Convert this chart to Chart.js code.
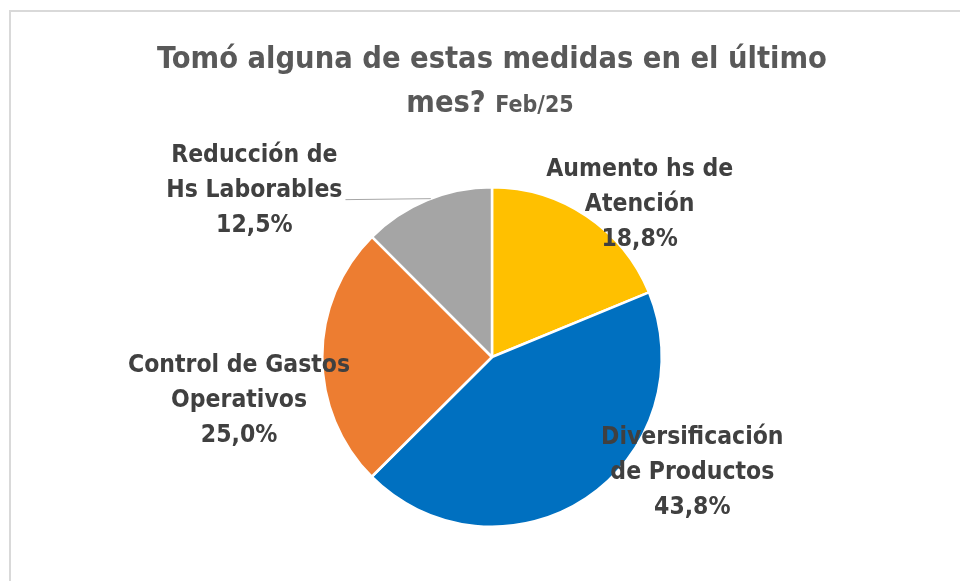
<!DOCTYPE html>
<html>
<head>
<meta charset="utf-8">
<script src="https://cdn.jsdelivr.net/npm/chart.js@4.4.1/dist/chart.umd.min.js"></script>
<style>
  html, body { margin: 0; padding: 0; background: #fff; }
  #wrap { width: 960px; height: 581px; position: relative; }
</style>
</head>
<body>
<div id="wrap"><canvas id="pie"></canvas></div>
<script>
// data
const categories = ['Aumento hs de Atención', 'Diversificación de Productos', 'Control de Gastos Operativos', 'Reducción de Hs Laborables'];
const labelLines = [['Aumento hs de', 'Atención'], ['Diversificación', 'de Productos'], ['Control de Gastos', 'Operativos'], ['Reducción de', 'Hs Laborables']];
const values = [18.8, 43.8, 25.0, 12.5];
const colors = ['#FFC000', '#0070C0', '#ED7D31', '#A5A5A5'];
const titleMain = 'Tomó alguna de estas medidas en el último';
const titleSecond = 'mes?';
const titleDate = 'Feb/25';

// label centre, in units of the pie radius from the pie centre
const labelOffsets = [[0.87, -0.90], [1.18, 0.68], [-1.49, 0.26], [-1.40, -0.98]];

const FONT = "'Liberation Sans Narrow', 'DejaVu Sans Condensed', 'Open Sans', sans-serif";

function pct(v) {
    return v.toFixed(1).replace('.', ',') + '%';
}

// title + frame
const titlePlugin = {
    id: 'titleDraw',
    beforeDraw(chart) {
        const ctx = chart.ctx;
        ctx.save();
        ctx.strokeStyle = '#d9d9d9';
        ctx.lineWidth = 2;
        ctx.strokeRect(10, 11, 1200, 1200);
        ctx.fillStyle = '#595959';
        ctx.textBaseline = 'alphabetic';
        ctx.textAlign = 'center';
        ctx.font = 'bold 30.5px ' + FONT;
        ctx.fillText(titleMain, 492, 68);
        ctx.textAlign = 'left';
        const w1 = ctx.measureText(titleSecond + ' ').width;
        ctx.font = 'bold 23px ' + FONT;
        const w2 = ctx.measureText(titleDate).width;
        const x0 = 490 - (w1 + w2) / 2;
        ctx.font = 'bold 30.5px ' + FONT;
        ctx.fillText(titleSecond + ' ', x0, 112);
        ctx.font = 'bold 23px ' + FONT;
        ctx.fillText(titleDate, x0 + w1, 112);
        ctx.restore();
    }
};

// data labels
const labelPlugin = {
    id: 'sliceLabels',
    afterDatasetsDraw(chart) {
        const ctx = chart.ctx;
        const arcs = chart.getDatasetMeta(0).data;
        const cx = arcs[0].x, cy = arcs[0].y, r = arcs[0].outerRadius;
        const lh = 35;
        ctx.save();
        ctx.font = 'bold 24.5px ' + FONT;
        ctx.fillStyle = '#404040';
        ctx.textAlign = 'center';
        ctx.textBaseline = 'middle';
        arcs.forEach((arc, i) => {
            const lx = cx + labelOffsets[i][0] * r;
            const ly = cy + labelOffsets[i][1] * r;
            const lines = labelLines[i].concat([pct(values[i])]);
            lines.forEach((t, k) => ctx.fillText(t, lx, ly + (k - 1) * lh));
            if (i === 3) {
                // leader line to the slice edge
                const w = ctx.measureText(lines[1]).width;
                const y = ly + 8;
                const dy = cy - y;
                const ex = cx - Math.sqrt(r * r - dy * dy);
                ctx.strokeStyle = '#a6a6a6';
                ctx.lineWidth = 1;
                ctx.beginPath();
                ctx.moveTo(lx + w / 2 + 3, y + 1);
                ctx.lineTo(ex, y);
                ctx.stroke();
            }
        });
        ctx.restore();
    }
};

new Chart(document.getElementById('pie'), {
    type: 'pie',
    data: {
        labels: categories,
        datasets: [{
            data: values,
            backgroundColor: colors,
            borderColor: '#ffffff',
            borderWidth: 2.5
        }]
    },
    options: {
        responsive: true,
        maintainAspectRatio: false,
        animation: false,
        layout: { padding: { top: 186, bottom: 53, left: 100, right: 76 } },
        plugins: {
            legend: { display: false },
            title: { display: false },
            tooltip: { enabled: false }
        }
    },
    plugins: [titlePlugin, labelPlugin]
});
</script>
</body>
</html>
